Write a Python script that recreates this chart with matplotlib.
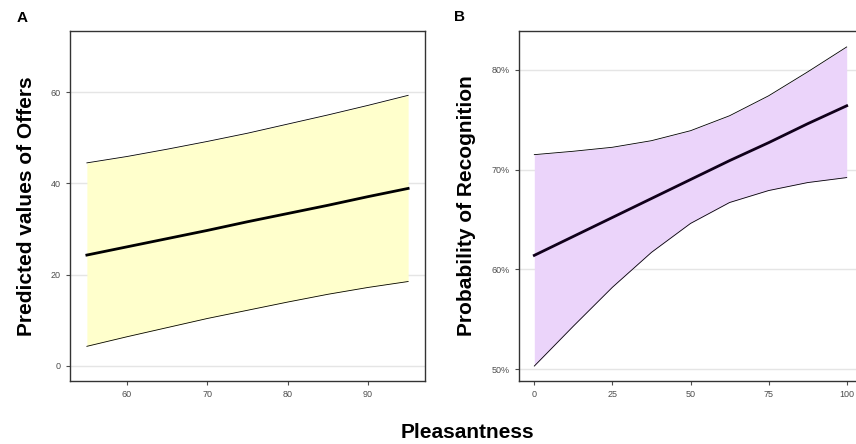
import numpy as np
import matplotlib.pyplot as plt
from matplotlib.ticker import FuncFormatter

plt.rcParams['font.family'] = ['Liberation Sans', 'DejaVu Sans']

# panel A: offers vs pleasantness
pleas_a = [55, 60, 65, 70, 75, 80, 85, 90, 95]
offers_fit = [24.3, 26.1, 27.9, 29.7, 31.6, 33.4, 35.2, 37.1, 38.9]
offers_hi = [44.5, 45.9, 47.5, 49.2, 51.0, 53.0, 55.0, 57.1, 59.3]
offers_lo = [4.3, 6.4, 8.4, 10.4, 12.2, 14.0, 15.7, 17.2, 18.5]

# panel B: recognition probability vs pleasantness
pleas_b = [0, 12.5, 25, 37.5, 50, 62.5, 75, 87.5, 100]
recog_fit = [0.614, 0.633, 0.652, 0.671, 0.690, 0.709, 0.727, 0.746, 0.764]
recog_hi = [0.715, 0.7184, 0.7224, 0.729, 0.739, 0.754, 0.774, 0.798, 0.823]
recog_lo = [0.503, 0.543, 0.582, 0.617, 0.646, 0.667, 0.679, 0.687, 0.692]

tick_col = '#4d4d4d'
grid_col = '#e5e5e5'

fig = plt.figure(figsize=(8.56, 4.44), dpi=100)
ax1 = fig.add_axes([70/856, 1-381/444, 355/856, 350/444])
ax2 = fig.add_axes([519/856, 1-381/444, 343/856, 350/444])


def style(ax):
    ax.grid(axis='y', color=grid_col, lw=1.0)
    ax.set_axisbelow(True)
    for s in ax.spines.values():
        s.set_color('#333333')
        s.set_linewidth(1.0)
    ax.tick_params(axis='both', labelsize=6.5, labelcolor=tick_col, color=tick_col,
                   length=3, width=0.8)


ax1.fill_between(pleas_a, offers_lo, offers_hi, color='#ffffcc', lw=0)
ax1.plot(pleas_a, offers_hi, color='black', lw=0.6)
ax1.plot(pleas_a, offers_lo, color='black', lw=0.6)
ax1.plot(pleas_a, offers_fit, color='black', lw=2)
ax1.set_xlim(52.9, 97.1)
ax1.set_ylim(-3.3, 73.4)
ax1.set_xticks([60, 70, 80, 90])
ax1.set_yticks([0, 20, 40, 60])
style(ax1)
ax1.set_ylabel('Predicted values of Offers', fontsize=15, fontweight='bold', labelpad=11)

ax2.fill_between(pleas_b, recog_lo, recog_hi, color='#ebd4fa', lw=0)
ax2.plot(pleas_b, recog_hi, color='black', lw=0.6)
ax2.plot(pleas_b, recog_lo, color='black', lw=0.6)
ax2.plot(pleas_b, recog_fit, color='#10001a', lw=2)
ax2.set_xlim(-4.9, 104.9)
ax2.set_ylim(0.488, 0.839)
ax2.set_xticks([0, 25, 50, 75, 100])
ax2.set_yticks([0.5, 0.6, 0.7, 0.8])
ax2.yaxis.set_major_formatter(FuncFormatter(lambda v, p: f'{v*100:.0f}%'))
style(ax2)
ax2.set_ylabel('Probability of Recognition', fontsize=15, fontweight='bold', labelpad=11)

fig.text(22/856, 1-18/444, 'A', fontsize=11, fontweight='bold', ha='center', va='center')
fig.text(459/856, 1-17/444, 'B', fontsize=11, fontweight='bold', ha='center', va='center')
fig.text(467/856, 1-432/444, 'Pleasantness', fontsize=15, fontweight='bold',
         ha='center', va='center')

fig.savefig('out.png', dpi=100)
